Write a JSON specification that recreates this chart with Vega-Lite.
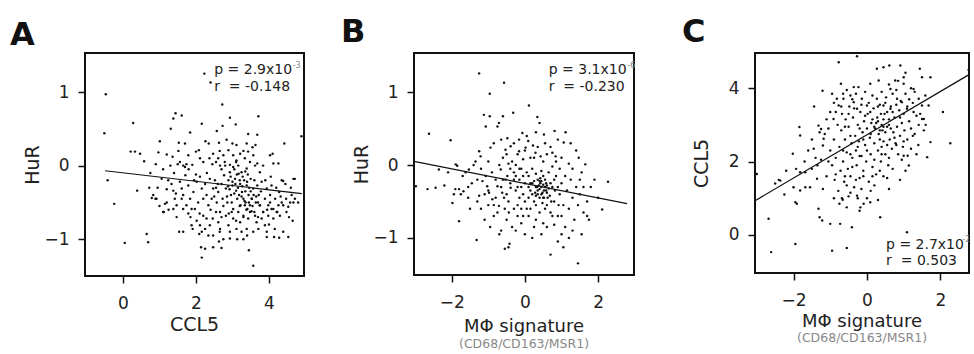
{
"$schema": "https://vega.github.io/schema/vega-lite/v6.json",
"padding": {"left": 10, "top": 16, "right": 0, "bottom": 0},
"config": {
  "font": "DejaVu Sans",
  "view": {"stroke": "#111", "strokeWidth": 2},
  "axis": {"grid": false, "domain": false, "ticks": true, "tickColor": "#111", "tickSize": 7, "tickWidth": 1.5, "labelFontSize": 17, "labelColor": "#222", "titleFontSize": 19, "titleFontWeight": "normal", "titleColor": "#222"},
  "axisX": {"labelPadding": 12},
  "axisY": {"labelPadding": 9},
  "title": {"fontWeight": "normal", "color": "#222"}
},
"datasets": {
"a": [
{"x":2.23,"y":1.25},{"x":2.40,"y":1.13},{"x":-0.47,"y":0.97},{"x":2.72,"y":0.83},{"x":-0.51,"y":0.44},{"x":0.28,"y":0.58},{"x":1.44,"y":0.71},{"x":1.61,"y":0.68},{"x":1.38,"y":0.64},{"x":2.16,"y":0.57},{"x":2.93,"y":0.65},{"x":3.09,"y":0.56},{"x":3.71,"y":0.67},{"x":2.73,"y":0.54},{"x":4.89,"y":0.40},{"x":1.84,"y":0.45},{"x":3.43,"y":0.43},{"x":3.68,"y":0.42},{"x":1.31,"y":0.50},{"x":1.01,"y":0.33},{"x":1.53,"y":0.31},{"x":2.26,"y":0.33},{"x":2.57,"y":0.47},{"x":2.63,"y":0.31},{"x":2.84,"y":0.35},{"x":3.11,"y":0.28},{"x":3.39,"y":0.30},{"x":3.63,"y":0.28},{"x":4.42,"y":0.30},{"x":0.21,"y":0.19},{"x":0.33,"y":0.19},{"x":0.47,"y":0.16},{"x":0.58,"y":0.06},{"x":0.97,"y":0.18},{"x":1.36,"y":0.12},{"x":1.52,"y":0.20},{"x":1.56,"y":0.05},{"x":1.65,"y":0.00},{"x":1.74,"y":0.02},{"x":1.79,"y":0.14},{"x":2.00,"y":0.19},{"x":2.08,"y":0.21},{"x":2.11,"y":0.10},{"x":2.20,"y":0.05},{"x":2.37,"y":0.10},{"x":2.47,"y":0.16},{"x":2.55,"y":0.05},{"x":2.61,"y":0.10},{"x":2.66,"y":0.00},{"x":2.75,"y":0.14},{"x":2.79,"y":0.05},{"x":2.89,"y":0.21},{"x":2.93,"y":0.01},{"x":3.02,"y":0.14},{"x":3.02,"y":-0.02},{"x":3.11,"y":0.07},{"x":3.16,"y":0.00},{"x":3.21,"y":0.16},{"x":3.25,"y":-0.09},{"x":3.34,"y":0.10},{"x":3.39,"y":-0.04},{"x":3.43,"y":0.19},{"x":3.48,"y":0.05},{"x":3.57,"y":0.14},{"x":3.62,"y":0.00},{"x":3.68,"y":0.03},{"x":3.75,"y":-0.09},{"x":3.84,"y":0.00},{"x":4.03,"y":0.14},{"x":4.10,"y":0.16},{"x":4.12,"y":0.03},{"x":4.26,"y":0.03},{"x":4.35,"y":-0.20},{"x":4.67,"y":-0.18},{"x":4.39,"y":-0.21},
{"x":-0.42,"y":-0.20},{"x":-0.24,"y":-0.52},{"x":0.39,"y":-0.34},{"x":0.72,"y":-0.30},{"x":0.79,"y":-0.44},{"x":0.83,"y":-0.40},{"x":0.89,"y":-0.45},{"x":1.06,"y":-0.18},{"x":1.12,"y":-0.63},{"x":1.15,"y":-0.52},{"x":1.24,"y":-0.20},{"x":1.33,"y":-0.25},{"x":1.38,"y":-0.34},{"x":1.42,"y":-0.45},{"x":1.47,"y":-0.54},{"x":1.56,"y":-0.22},{"x":1.61,"y":-0.31},{"x":1.65,"y":-0.40},{"x":1.71,"y":-0.13},{"x":1.79,"y":-0.27},{"x":1.84,"y":-0.45},{"x":1.88,"y":-0.59},{"x":1.93,"y":-0.36},{"x":2.02,"y":-0.22},{"x":2.06,"y":-0.50},{"x":2.11,"y":-0.15},{"x":2.16,"y":-0.31},{"x":2.25,"y":-0.25},{"x":2.29,"y":-0.40},{"x":2.34,"y":-0.54},{"x":2.38,"y":-0.18},{"x":2.43,"y":-0.45},{"x":2.47,"y":-0.31},{"x":2.52,"y":-0.20},{"x":2.57,"y":-0.50},{"x":2.61,"y":-0.36},{"x":2.66,"y":-0.63},{"x":2.70,"y":-0.25},{"x":2.73,"y":-0.45},{"x":2.77,"y":-0.13},{"x":2.82,"y":-0.31},{"x":2.86,"y":-0.50},{"x":2.89,"y":-0.20},{"x":2.93,"y":-0.09},{"x":2.96,"y":-0.40},{"x":3.00,"y":-0.27},{"x":3.02,"y":-0.59},{"x":3.07,"y":-0.18},{"x":3.10,"y":-0.34},{"x":3.13,"y":-0.45},{"x":3.17,"y":-0.11},{"x":3.21,"y":-0.25},{"x":3.22,"y":-0.54},{"x":3.26,"y":-0.36},{"x":3.30,"y":-0.45},{"x":3.32,"y":-0.20},{"x":3.36,"y":-0.50},{"x":3.39,"y":-0.27},{"x":3.41,"y":-0.59},{"x":3.44,"y":-0.40},{"x":3.48,"y":-0.54},{"x":3.50,"y":-0.18},{"x":3.53,"y":-0.45},{"x":3.57,"y":-0.31},{"x":3.60,"y":-0.63},{"x":3.64,"y":-0.50},{"x":3.68,"y":-0.27},{"x":3.72,"y":-0.40},{"x":3.75,"y":-0.54},{"x":3.80,"y":-0.22},{"x":3.84,"y":-0.63},{"x":3.89,"y":-0.45},{"x":3.94,"y":-0.31},{"x":3.98,"y":-0.54},{"x":4.03,"y":-0.40},{"x":4.07,"y":-0.27},{"x":4.12,"y":-0.59},{"x":4.17,"y":-0.45},{"x":4.23,"y":-0.63},{"x":4.28,"y":-0.36},{"x":4.35,"y":-0.50},{"x":4.39,"y":-0.54},{"x":4.47,"y":-0.45},{"x":4.53,"y":-0.56},{"x":4.62,"y":-0.40},{"x":4.67,"y":-0.50},{"x":4.71,"y":-0.18},{"x":4.80,"y":-0.50},
{"x":0.65,"y":-0.93},{"x":0.69,"y":-1.04},{"x":0.92,"y":-0.45},{"x":1.10,"y":-0.63},{"x":1.20,"y":-0.50},{"x":1.38,"y":-0.59},{"x":1.47,"y":-0.70},{"x":1.61,"y":-0.45},{"x":1.65,"y":-0.59},{"x":1.74,"y":-0.54},{"x":1.79,"y":-0.65},{"x":1.88,"y":-0.81},{"x":1.91,"y":-0.86},{"x":1.97,"y":-0.59},{"x":2.02,"y":-0.75},{"x":2.11,"y":-0.81},{"x":2.16,"y":-0.90},{"x":2.20,"y":-0.68},{"x":2.25,"y":-0.86},{"x":2.29,"y":-0.72},{"x":2.34,"y":-0.95},{"x":2.38,"y":-0.81},{"x":2.46,"y":-0.72},{"x":2.47,"y":-0.95},{"x":2.55,"y":-0.63},{"x":2.61,"y":-0.77},{"x":2.66,"y":-0.86},{"x":2.70,"y":-0.70},{"x":2.75,"y":-1.00},{"x":2.82,"y":-0.68},{"x":2.89,"y":-0.81},{"x":2.93,"y":-0.90},{"x":2.98,"y":-0.63},{"x":3.02,"y":-0.72},{"x":3.11,"y":-0.86},{"x":3.16,"y":-0.63},{"x":3.21,"y":-0.77},{"x":3.25,"y":-0.90},{"x":3.30,"y":-0.68},{"x":3.34,"y":-0.54},{"x":3.39,"y":-0.86},{"x":3.43,"y":-0.72},{"x":3.48,"y":-0.63},{"x":3.53,"y":-0.45},{"x":3.57,"y":-0.90},{"x":3.62,"y":-0.68},{"x":3.66,"y":-0.77},{"x":3.71,"y":-0.86},{"x":3.75,"y":-0.54},{"x":3.80,"y":-0.72},{"x":3.84,"y":-0.63},{"x":3.89,"y":-0.81},{"x":3.94,"y":-0.90},{"x":3.98,"y":-0.68},{"x":4.03,"y":-0.50},{"x":4.07,"y":-0.59},{"x":4.12,"y":-0.72},{"x":4.16,"y":-0.86},{"x":4.21,"y":-0.63},{"x":4.26,"y":-0.54},{"x":4.30,"y":-0.68},{"x":4.39,"y":-0.90},{"x":4.48,"y":-0.63},{"x":4.58,"y":-0.50},{"x":4.65,"y":-0.75},{"x":4.71,"y":-0.45},
{"x":0.05,"y":-1.05},{"x":1.54,"y":-0.90},{"x":1.65,"y":-0.90},{"x":2.09,"y":-0.93},{"x":2.14,"y":-1.11},{"x":2.16,"y":-1.25},{"x":2.25,"y":-1.13},{"x":2.47,"y":-1.11},{"x":2.63,"y":-1.03},{"x":2.70,"y":-1.12},{"x":2.93,"y":-0.99},{"x":3.13,"y":-1.00},{"x":3.30,"y":-1.00},{"x":3.45,"y":-1.15},{"x":3.57,"y":-1.36},{"x":3.94,"y":-0.97},{"x":4.14,"y":-0.97},{"x":4.28,"y":-0.98},{"x":4.53,"y":-0.97},
{"x":3.05,"y":-0.05},{"x":3.12,"y":-0.12},{"x":3.2,"y":-0.2},{"x":3.28,"y":-0.15},{"x":3.35,"y":-0.08},{"x":3.4,"y":-0.22},{"x":2.95,"y":-0.15},{"x":2.88,"y":-0.28},{"x":3.15,"y":-0.3},{"x":3.25,"y":-0.42},{"x":3.45,"y":-0.5},{"x":3.5,"y":-0.35},{"x":3.55,"y":-0.55},{"x":3.38,"y":-0.6},{"x":3.3,"y":-0.7},{"x":3.2,"y":-0.55},{"x":3.05,"y":-0.38},{"x":2.98,"y":-0.5},{"x":3.6,"y":-0.2},{"x":3.65,"y":-0.42},{"x":2.7,"y":-0.05},{"x":2.8,"y":0.0},{"x":2.6,"y":-0.25},{"x":2.5,"y":-0.42},{"x":2.45,"y":0.02},{"x":2.3,"y":-0.1},{"x":3.1,"y":0.05},{"x":3.0,"y":-0.22},{"x":3.35,"y":-0.35},{"x":3.42,"y":-0.12},
{"x":1.1,"y":-0.05},{"x":1.2,"y":-0.32},{"x":1.3,"y":0.0},{"x":1.4,"y":-0.1},{"x":1.5,"y":0.02},{"x":1.45,"y":-0.38},{"x":1.7,"y":-0.02},{"x":1.8,"y":-0.05},{"x":1.9,"y":0.01},{"x":2.0,"y":-0.12},{"x":1.25,"y":-0.6},{"x":1.0,"y":-0.55},{"x":0.95,"y":-0.3},{"x":0.9,"y":0.02},
{"x":2.85,"y":-0.42},{"x":2.92,"y":-0.32},{"x":3.08,"y":-0.25},{"x":3.18,"y":-0.4},{"x":3.27,"y":-0.28},{"x":3.33,"y":-0.48},{"x":3.46,"y":-0.3},{"x":3.52,"y":-0.62},{"x":3.58,"y":-0.4},{"x":3.7,"y":-0.5},{"x":3.78,"y":-0.35},{"x":3.9,"y":-0.2},{"x":3.95,"y":-0.6},{"x":4.05,"y":-0.15},{"x":4.2,"y":-0.3},{"x":4.32,"y":-0.42},{"x":4.45,"y":-0.25},{"x":4.55,"y":-0.7},{"x":4.6,"y":-0.3},{"x":2.4,"y":-0.6},{"x":2.2,"y":-0.45},{"x":2.1,"y":-0.65},{"x":1.95,"y":-0.2},{"x":1.85,"y":-0.7},{"x":2.65,"y":-0.9},{"x":2.9,"y":-0.65},{"x":3.1,"y":-0.75},{"x":3.4,"y":-0.95},{"x":3.7,"y":-0.7},{"x":4.0,"y":-0.8},{"x":2.55,"y":-0.3},{"x":2.75,"y":-0.55},{"x":3.0,"y":0.3},{"x":3.3,"y":0.2},{"x":3.55,"y":0.25},{"x":2.65,"y":0.2},{"x":2.35,"y":0.3},{"x":1.7,"y":0.3},{"x":1.2,"y":0.15},{"x":0.75,"y":-0.1}
],
"b": [
{"x":-1.25,"y":1.26},{"x":-0.57,"y":1.13},{"x":-0.96,"y":0.98},{"x":0.11,"y":0.82},{"x":-1.12,"y":0.69},{"x":-0.96,"y":0.67},{"x":-0.6,"y":0.67},{"x":0.34,"y":0.66},{"x":-0.32,"y":0.72},{"x":0.4,"y":0.58},{"x":-0.71,"y":0.58},{"x":-0.75,"y":0.53},{"x":-1.07,"y":0.53},{"x":-2.62,"y":0.43},{"x":-2.03,"y":0.34},{"x":-0.07,"y":0.44},{"x":0.81,"y":0.47},{"x":1.11,"y":0.45},{"x":0.52,"y":0.42},{"x":-0.65,"y":0.35},{"x":-0.48,"y":0.37},{"x":-0.16,"y":0.35},{"x":0.09,"y":0.33},{"x":0.22,"y":0.27},{"x":1.06,"y":0.31},{"x":-1.25,"y":0.19},{"x":-1.21,"y":0.12},{"x":-0.94,"y":0.24},{"x":-0.53,"y":0.21},{"x":-0.39,"y":0.26},{"x":-0.16,"y":0.19},{"x":0.02,"y":0.24},{"x":0.29,"y":0.17},{"x":0.43,"y":0.12},{"x":0.75,"y":0.17},{"x":0.84,"y":0.12},{"x":1.65,"y":0.01},{"x":1.47,"y":0.1},{"x":2.27,"y":-0.23},{"x":2.11,"y":-0.61},
{"x":-2.98,"y":-0.29},{"x":-2.66,"y":-0.33},{"x":-2.44,"y":-0.31},{"x":-2.35,"y":-0.06},{"x":-1.98,"y":-0.52},{"x":-1.94,"y":-0.4},{"x":-1.9,"y":-0.33},{"x":-1.8,"y":-0.33},{"x":-1.75,"y":-0.4},{"x":-1.68,"y":-0.36},{"x":-1.8,"y":-0.77},{"x":-1.89,"y":0.01},{"x":-1.85,"y":-0.01},{"x":-1.62,"y":-0.1},{"x":-1.53,"y":-0.06},{"x":-1.4,"y":0.0},{"x":-1.35,"y":0.05},{"x":-1.32,"y":-1.03},{"x":-1.25,"y":-0.42},{"x":-1.16,"y":-0.22},{"x":-1.07,"y":-0.15},{"x":-1.03,"y":-0.29},{"x":-0.98,"y":-0.38},{"x":-0.89,"y":-0.47},{"x":-0.8,"y":-0.2},{"x":-0.75,"y":-0.29},{"x":-0.71,"y":-0.56},{"x":-0.66,"y":-0.06},{"x":-0.62,"y":-0.38},{"x":-0.57,"y":-0.45},{"x":-0.53,"y":-0.2},{"x":-0.48,"y":-0.15},{"x":-0.44,"y":-0.65},{"x":-0.39,"y":-0.31},{"x":-1.5,"y":-0.6},{"x":-1.45,"y":-0.25},{"x":-1.3,"y":-0.5},{"x":-1.2,"y":-0.6},{"x":-1.1,"y":-0.75},{"x":-1.0,"y":-0.55},{"x":-0.95,"y":-0.85},{"x":-0.85,"y":-0.7},{"x":-0.7,"y":-0.95},{"x":-0.65,"y":-0.9},{"x":-0.55,"y":-1.15},{"x":-0.45,"y":-1.13},{"x":-0.42,"y":-1.08},{"x":-1.55,"y":-0.45},{"x":-1.7,"y":-0.15},{"x":-2.1,"y":-0.1},{"x":-2.2,"y":-0.28},
{"x":-0.3,"y":-0.1},{"x":-0.25,"y":-0.35},{"x":-0.2,"y":-0.55},{"x":-0.15,"y":-0.2},{"x":-0.1,"y":-0.05},{"x":-0.05,"y":-0.4},{"x":0.0,"y":-0.25},{"x":0.05,"y":-0.6},{"x":0.1,"y":-0.15},{"x":0.15,"y":-0.35},{"x":0.2,"y":-0.05},{"x":0.25,"y":-0.5},{"x":0.3,"y":-0.3},{"x":0.35,"y":-0.2},{"x":0.38,"y":-0.28},{"x":0.4,"y":-0.33},{"x":0.42,"y":-0.25},{"x":0.45,"y":-0.3},{"x":0.48,"y":-0.38},{"x":0.5,"y":-0.27},{"x":0.52,"y":-0.45},{"x":0.55,"y":-0.2},{"x":0.58,"y":-0.35},{"x":0.6,"y":-0.55},{"x":0.65,"y":-0.1},{"x":0.68,"y":-0.42},{"x":0.7,"y":-0.65},{"x":0.75,"y":-0.3},{"x":0.8,"y":-0.5},{"x":0.85,"y":-0.15},{"x":0.9,"y":-0.7},{"x":0.95,"y":-0.4},{"x":1.0,"y":-0.25},{"x":1.05,"y":-0.55},{"x":1.1,"y":-0.85},{"x":1.15,"y":-0.35},{"x":1.2,"y":-0.6},{"x":1.25,"y":-0.2},{"x":1.3,"y":-0.45},{"x":1.35,"y":-0.75},{"x":1.4,"y":-0.3},{"x":1.45,"y":-0.55},{"x":1.5,"y":-0.4},{"x":1.55,"y":-0.95},{"x":1.6,"y":-0.65},{"x":1.45,"y":-1.35},{"x":1.7,"y":-0.5},{"x":1.75,"y":-0.75},{"x":1.8,"y":-0.3},{"x":2.0,"y":-0.45},{"x":0.7,"y":-1.23},{"x":1.05,"y":-1.13},{"x":0.9,"y":-1.05},{"x":0.45,"y":-0.95},{"x":0.2,"y":-1.0},{"x":0.6,"y":-0.85},{"x":0.3,"y":-0.75},{"x":-0.1,"y":-0.8},{"x":0.0,"y":-0.95},{"x":0.1,"y":-0.7},{"x":-0.2,"y":-0.7},{"x":-0.3,"y":-0.6},{"x":-0.35,"y":-0.85},{"x":0.25,"y":0.1},{"x":0.5,"y":0.05},{"x":0.6,"y":0.15},{"x":0.35,"y":0.25},{"x":0.15,"y":0.1},{"x":-0.05,"y":0.08},{"x":-0.2,"y":0.15},{"x":-0.35,"y":0.05},{"x":-0.45,"y":0.02},{"x":-0.6,"y":0.1},{"x":0.85,"y":0.05},{"x":1.0,"y":0.1},{"x":1.2,"y":0.02},{"x":0.95,"y":-0.05},{"x":0.75,"y":-0.02},{"x":0.45,"y":-0.08},{"x":0.3,"y":-0.12},{"x":0.1,"y":-0.45},{"x":0.2,"y":-0.25},{"x":0.5,"y":-0.15},{"x":0.65,"y":-0.32},{"x":0.4,"y":-0.45},{"x":0.55,"y":-0.6},{"x":0.35,"y":-0.4},{"x":0.25,"y":-0.22},{"x":0.45,"y":-0.22},{"x":0.6,"y":-0.28},{"x":0.3,"y":-0.55},{"x":0.15,"y":-0.6},{"x":-0.05,"y":-0.15},{"x":-0.15,"y":-0.45},{"x":-0.25,"y":0.0},{"x":-0.4,"y":-0.25},{"x":-0.5,"y":-0.4},{"x":-0.6,"y":-0.2},{"x":-0.8,"y":-0.45},{"x":-0.9,"y":-0.1},{"x":-1.0,"y":0.05},{"x":-0.7,"y":0.0},{"x":-0.55,"y":-0.6},{"x":-0.45,"y":-0.5},{"x":-0.3,"y":-0.2},{"x":-0.15,"y":-0.05},{"x":0.0,"y":0.2},{"x":0.05,"y":-0.1},{"x":0.7,"y":0.25},{"x":0.9,"y":-0.3},{"x":1.1,"y":-0.15},{"x":1.3,"y":-0.05},{"x":1.55,"y":-0.1},{"x":1.4,"y":0.2},{"x":1.6,"y":-0.3},{"x":1.9,"y":-0.2},{"x":0.8,"y":-0.82},{"x":1.0,"y":-0.7},{"x":1.2,"y":-1.0},{"x":0.4,"y":-0.65},{"x":0.0,"y":-0.5},{"x":-0.2,"y":-0.3},{"x":-0.1,"y":-0.6},{"x":0.1,"y":-0.3},{"x":0.28,"y":-0.38},{"x":0.42,"y":-0.18},{"x":0.52,"y":-0.35},{"x":0.62,"y":-0.45},{"x":0.72,"y":-0.5},{"x":0.82,"y":-0.35},{"x":0.92,"y":-0.55},{"x":0.48,"y":-0.52},{"x":0.33,"y":-0.3},{"x":0.58,"y":-0.25},
{"x":0.35,"y":-0.35},{"x":0.45,"y":-0.4},{"x":0.55,"y":-0.3},{"x":0.5,"y":-0.45},{"x":0.4,"y":-0.22},{"x":0.3,"y":-0.42},{"x":0.2,"y":-0.4},{"x":0.6,"y":-0.38},{"x":0.7,"y":-0.25},{"x":0.8,"y":-0.2},{"x":0.15,"y":-0.25},{"x":-0.1,"y":-0.3},{"x":-0.25,"y":-0.15},{"x":-0.4,"y":-0.05},{"x":-0.65,"y":-0.3},{"x":-0.85,"y":-0.55},{"x":-1.1,"y":-0.4},{"x":-1.3,"y":-0.2},{"x":-0.5,"y":0.15},{"x":-0.3,"y":0.3},{"x":0.05,"y":0.4},{"x":0.3,"y":0.45},{"x":0.55,"y":0.3},{"x":0.9,"y":0.35},{"x":1.25,"y":0.3},{"x":1.5,"y":-0.2},{"x":1.7,"y":-0.7},{"x":1.3,"y":-0.9},{"x":1.0,"y":-0.95},{"x":0.75,"y":-0.7},{"x":0.5,"y":-0.8},{"x":0.25,"y":-0.85},{"x":-0.05,"y":-0.7},{"x":-0.25,"y":-0.9},{"x":-0.5,"y":-0.75},{"x":-0.75,"y":-0.65},{"x":-1.0,"y":-0.35},{"x":-1.55,"y":-0.3},{"x":-1.2,"y":-0.05},{"x":-0.85,"y":0.3}
],
"c": [
{"x":-0.77,"y":4.71},{"x":-0.27,"y":4.87},{"x":0.27,"y":4.53},{"x":0.45,"y":4.57},{"x":0.61,"y":4.62},{"x":0.91,"y":4.62},{"x":1.44,"y":4.53},{"x":1.73,"y":4.3},{"x":2.77,"y":4.5},{"x":1.5,"y":4.3},{"x":1.05,"y":4.42},{"x":-1.21,"y":3.93},{"x":-1.44,"y":3.5},{"x":-0.71,"y":4.12},{"x":-0.36,"y":4.03},{"x":-0.23,"y":4.03},{"x":0.09,"y":4.12},{"x":0.32,"y":4.21},{"x":0.77,"y":4.21},{"x":0.64,"y":3.98},{"x":1.0,"y":4.12},{"x":1.27,"y":3.98},{"x":1.41,"y":3.71},{"x":1.59,"y":3.8},{"x":1.68,"y":3.53},{"x":1.5,"y":3.53},{"x":1.5,"y":3.16},{"x":1.55,"y":2.85},{"x":2.07,"y":3.35},{"x":2.27,"y":2.5},{"x":1.64,"y":2.12},{"x":1.73,"y":2.53},{"x":1.11,"y":2.16},{"x":1.14,"y":1.89},{"x":1.0,"y":2.16},
{"x":-1.32,"y":2.98},{"x":-1.25,"y":2.89},{"x":-1.29,"y":2.8},{"x":-1.18,"y":2.62},{"x":-1.2,"y":2.44},{"x":-1.0,"y":3.35},{"x":-0.91,"y":3.16},{"x":-0.82,"y":3.71},{"x":-0.77,"y":3.53},{"x":-0.64,"y":3.71},{"x":-0.45,"y":3.8},{"x":-0.36,"y":3.62},{"x":-0.27,"y":3.44},{"x":-0.14,"y":3.71},{"x":0.0,"y":3.53},{"x":0.09,"y":3.35},{"x":0.27,"y":3.71},{"x":0.45,"y":3.53},{"x":0.64,"y":3.44},{"x":0.82,"y":3.71},{"x":0.95,"y":3.62},{"x":1.09,"y":3.44},{"x":1.27,"y":3.35},{"x":1.41,"y":3.0},{"x":1.55,"y":3.16},
{"x":-3.0,"y":1.66},{"x":-2.68,"y":0.44},{"x":-2.61,"y":-0.47},{"x":-2.36,"y":1.48},{"x":-2.02,"y":2.21},{"x":-1.84,"y":2.94},{"x":-1.82,"y":2.71},{"x":-1.93,"y":1.8},{"x":-1.82,"y":1.71},{"x":-1.68,"y":1.71},{"x":-1.95,"y":0.89},{"x":-1.91,"y":0.85},{"x":-1.82,"y":1.21},{"x":-1.68,"y":1.3},{"x":-1.36,"y":1.53},{"x":-1.32,"y":0.71},{"x":-1.29,"y":0.48},{"x":-1.22,"y":0.39},{"x":-1.95,"y":-0.25},{"x":-0.95,"y":-0.43},{"x":-0.55,"y":-0.36},{"x":-1.0,"y":0.3},{"x":-0.73,"y":0.3},{"x":-0.68,"y":1.0},{"x":-0.66,"y":0.96},{"x":-0.41,"y":0.21},{"x":-0.2,"y":0.66},{"x":-0.18,"y":0.75},{"x":-0.09,"y":0.85},{"x":0.09,"y":0.89},{"x":0.36,"y":0.48},{"x":1.09,"y":0.07},{"x":-0.45,"y":1.15},{"x":-0.27,"y":1.07},{"x":-0.55,"y":1.35},{"x":-2.5,"y":1.4},{"x":-2.2,"y":1.75},{"x":-1.5,"y":1.8},{"x":-1.4,"y":2.1},{"x":-1.6,"y":2.3},{"x":-2.4,"y":1.5},
{"x":-1.0,"y":2.3},{"x":-0.95,"y":1.9},{"x":-0.9,"y":2.6},{"x":-0.88,"y":1.5},{"x":-0.85,"y":2.1},{"x":-0.8,"y":3.0},{"x":-0.78,"y":1.2},{"x":-0.75,"y":2.4},{"x":-0.72,"y":1.75},{"x":-0.7,"y":2.85},{"x":-0.68,"y":3.3},{"x":-0.65,"y":2.0},{"x":-0.62,"y":1.45},{"x":-0.6,"y":2.6},{"x":-0.58,"y":3.15},{"x":-0.55,"y":2.25},{"x":-0.52,"y":1.8},{"x":-0.5,"y":2.95},{"x":-0.48,"y":3.5},{"x":-0.45,"y":1.6},{"x":-0.42,"y":2.5},{"x":-0.4,"y":2.1},{"x":-0.38,"y":3.2},{"x":-0.35,"y":1.3},{"x":-0.32,"y":2.7},{"x":-0.3,"y":2.3},{"x":-0.28,"y":1.9},{"x":-0.25,"y":3.0},{"x":-0.22,"y":2.55},{"x":-0.2,"y":1.55},{"x":-0.18,"y":3.35},{"x":-0.15,"y":2.15},{"x":-0.12,"y":2.8},{"x":-0.1,"y":1.75},{"x":-0.08,"y":3.1},{"x":-0.05,"y":2.45},{"x":-0.02,"y":2.0},{"x":0.0,"y":2.9},{"x":0.02,"y":3.3},{"x":0.05,"y":1.45},{"x":0.08,"y":2.65},{"x":0.1,"y":2.2},{"x":0.12,"y":3.05},{"x":0.15,"y":1.85},{"x":0.18,"y":3.45},{"x":0.2,"y":2.5},{"x":0.22,"y":2.9},{"x":0.25,"y":1.65},{"x":0.28,"y":3.2},{"x":0.3,"y":2.3},{"x":0.32,"y":2.75},{"x":0.35,"y":3.55},{"x":0.38,"y":2.0},{"x":0.4,"y":3.0},{"x":0.42,"y":2.85},{"x":0.45,"y":2.55},{"x":0.48,"y":3.3},{"x":0.5,"y":2.2},{"x":0.52,"y":3.75},{"x":0.55,"y":2.95},{"x":0.58,"y":1.9},{"x":0.6,"y":3.15},{"x":0.62,"y":2.6},{"x":0.65,"y":3.5},{"x":0.68,"y":2.35},{"x":0.7,"y":3.85},{"x":0.72,"y":2.8},{"x":0.75,"y":3.2},{"x":0.78,"y":2.5},{"x":0.8,"y":3.95},{"x":0.82,"y":2.95},{"x":0.85,"y":2.2},{"x":0.88,"y":3.4},{"x":0.9,"y":2.7},{"x":0.92,"y":3.65},{"x":0.95,"y":3.05},{"x":0.98,"y":2.4},{"x":1.0,"y":3.3},{"x":1.02,"y":2.85},{"x":1.05,"y":3.85},{"x":1.1,"y":2.6},{"x":1.15,"y":3.1},{"x":1.2,"y":2.9},{"x":1.25,"y":3.6},{"x":1.3,"y":2.75},{"x":1.35,"y":3.25},{"x":1.4,"y":2.45},{"x":1.2,"y":4.0},{"x":1.0,"y":4.3},{"x":0.85,"y":4.2},{"x":0.6,"y":4.1},{"x":0.4,"y":3.9},{"x":0.15,"y":3.8},{"x":-0.05,"y":3.9},{"x":-0.3,"y":3.85},{"x":-0.55,"y":3.95},{"x":-0.95,"y":3.85},{"x":-1.1,"y":3.15},{"x":-1.15,"y":2.75},{"x":-1.05,"y":2.0},{"x":-1.1,"y":1.6},{"x":-1.2,"y":1.25},{"x":-1.35,"y":1.9},{"x":-1.45,"y":2.35},{"x":-1.55,"y":1.3},{"x":-0.9,"y":1.0},{"x":-0.75,"y":0.85},{"x":-0.5,"y":1.05},{"x":-0.3,"y":1.5},{"x":-0.15,"y":1.25},{"x":0.2,"y":1.35},{"x":0.45,"y":1.6},{"x":0.7,"y":1.8},{"x":0.9,"y":1.5},{"x":0.6,"y":1.25},{"x":0.3,"y":0.95},{"x":0.0,"y":1.0},{"x":0.55,"y":2.45},{"x":0.35,"y":2.6},{"x":0.25,"y":3.05},{"x":0.1,"y":2.75},{"x":-0.1,"y":2.6},{"x":-0.25,"y":2.4},{"x":-0.45,"y":2.7},{"x":-0.6,"y":2.95},{"x":0.4,"y":2.4},{"x":0.5,"y":2.8},{"x":0.45,"y":2.95},{"x":0.38,"y":3.3},{"x":0.65,"y":2.9},{"x":0.75,"y":2.65},{"x":0.15,"y":3.15},{"x":-0.05,"y":3.25},{"x":-0.2,"y":2.9},{"x":-0.35,"y":3.45},{"x":-0.5,"y":3.3},{"x":-0.7,"y":3.5},{"x":-0.85,"y":3.35},{"x":0.3,"y":3.5},{"x":0.55,"y":3.35},{"x":0.8,"y":3.55},{"x":1.1,"y":3.5},{"x":1.3,"y":3.9},{"x":1.45,"y":3.3},{"x":1.6,"y":3.0},{"x":1.35,"y":2.2},{"x":1.2,"y":2.35},{"x":1.05,"y":1.75},{"x":0.95,"y":2.05},
{"x":0.2,"y":2.95},{"x":0.3,"y":3.1},{"x":0.45,"y":3.15},{"x":0.6,"y":3.0},{"x":0.35,"y":2.85},{"x":0.5,"y":3.6},{"x":0.7,"y":3.35},{"x":0.9,"y":3.2},{"x":1.15,"y":3.7},{"x":0.05,"y":3.6},{"x":-0.15,"y":3.55},{"x":-0.4,"y":3.7},{"x":-0.65,"y":3.85},{"x":-0.9,"y":3.6},{"x":-1.05,"y":2.9},{"x":-0.65,"y":2.3},{"x":-0.45,"y":2.2},{"x":-0.2,"y":2.15},{"x":0.0,"y":2.3},{"x":0.2,"y":2.05},{"x":0.4,"y":2.2},{"x":0.6,"y":2.1},{"x":0.8,"y":2.45},{"x":1.0,"y":2.55},{"x":1.25,"y":2.7},{"x":-0.85,"y":1.65},{"x":-0.6,"y":1.6},{"x":-0.4,"y":1.85},{"x":-0.1,"y":1.6},{"x":0.15,"y":1.6},{"x":0.35,"y":1.75},{"x":0.55,"y":1.55},{"x":-0.25,"y":1.0},{"x":-0.55,"y":0.75},{"x":0.1,"y":1.2},{"x":-1.25,"y":2.05},{"x":-1.5,"y":2.6},{"x":-1.7,"y":2.0},{"x":-2.0,"y":1.3},{"x":-2.25,"y":1.1}
]
},
"spacing": 45,
"hconcat": [
{
 "spacing": 35,
 "hconcat": [
  {
   "title": {"text": "A", "anchor": "start", "frame": "group", "fontSize": 32, "fontWeight": "bold", "color": "#111", "dx": -75, "offset": 0},
   "vconcat": [{
    "width": 219, "height": 223,
    "title": {"text": "CCL5", "orient": "bottom", "anchor": "middle", "frame": "group", "fontSize": 19, "offset": 5},
    "layer": [
     {"data": {"name": "a"}, "mark": {"type": "circle", "size": 6, "color": "#111", "opacity": 1},
      "encoding": {"x": {"field": "x", "type": "quantitative", "scale": {"domain": [-1.04, 4.96], "nice": false, "zero": false}, "axis": {"values": [0, 2, 4], "title": null}},
                   "y": {"field": "y", "type": "quantitative", "scale": {"domain": [-1.5, 1.53], "nice": false, "zero": false}, "axis": {"values": [-1, 0, 1], "title": "HuR", "titlePadding": 1}}}},
     {"data": {"values": [{"x": -0.49, "y": -0.07}, {"x": 4.9, "y": -0.38}]}, "mark": {"type": "line", "color": "#111", "strokeWidth": 1.2},
      "encoding": {"x": {"field": "x", "type": "quantitative", "scale": {"domain": [-1.04, 4.96], "nice": false, "zero": false}, "axis": {"values": [0, 2, 4], "title": null}},
                   "y": {"field": "y", "type": "quantitative", "scale": {"domain": [-1.5, 1.53], "nice": false, "zero": false}, "axis": {"values": [-1, 0, 1], "title": "HuR", "titlePadding": 1}}}},
     {"data": {"values": [{"t": "p = 2.9x10"}]}, "mark": {"type": "text", "align": "left", "baseline": "alphabetic", "fontSize": 14, "color": "#222"},
      "encoding": {"x": {"datum": 2.5, "type": "quantitative", "scale": {"domain": [-1.04, 4.96], "nice": false, "zero": false}, "axis": {"values": [0, 2, 4], "title": null}},
                   "y": {"datum": 1.24, "type": "quantitative", "scale": {"domain": [-1.5, 1.53], "nice": false, "zero": false}, "axis": {"values": [-1, 0, 1], "title": "HuR", "titlePadding": 1}}, "text": {"field": "t"}}},
     {"data": {"values": [{"t": "r\u00a0 = -0.148"}]}, "mark": {"type": "text", "align": "left", "baseline": "alphabetic", "fontSize": 14, "color": "#222"},
      "encoding": {"x": {"datum": 2.5, "type": "quantitative", "scale": {"domain": [-1.04, 4.96], "nice": false, "zero": false}, "axis": {"values": [0, 2, 4], "title": null}},
                   "y": {"datum": 1.01, "type": "quantitative", "scale": {"domain": [-1.5, 1.53], "nice": false, "zero": false}, "axis": {"values": [-1, 0, 1], "title": "HuR", "titlePadding": 1}}, "text": {"field": "t"}}},
     {"data": {"values": [{"t": "-3"}]}, "mark": {"type": "text", "align": "left", "baseline": "alphabetic", "fontSize": 8, "color": "#888"},
      "encoding": {"x": {"datum": 4.65, "type": "quantitative", "scale": {"domain": [-1.04, 4.96], "nice": false, "zero": false}, "axis": {"values": [0, 2, 4], "title": null}},
                   "y": {"datum": 1.33, "type": "quantitative", "scale": {"domain": [-1.5, 1.53], "nice": false, "zero": false}, "axis": {"values": [-1, 0, 1], "title": "HuR", "titlePadding": 1}}, "text": {"field": "t"}}}
    ]
   }]
  },
  {
   "title": {"text": "B", "anchor": "start", "frame": "group", "fontSize": 32, "fontWeight": "bold", "color": "#111", "dx": -73, "offset": 3},
   "vconcat": [{
    "width": 220, "height": 222,
    "title": {"text": "MΦ signature", "subtitle": "(CD68/CD163/MSR1)", "orient": "bottom", "anchor": "middle", "frame": "group", "fontSize": 18, "offset": 8, "subtitleFontSize": 12.5, "subtitleColor": "#888", "subtitlePadding": 2},
    "layer": [
     {"data": {"name": "b"}, "mark": {"type": "circle", "size": 6, "color": "#111", "opacity": 1},
      "encoding": {"x": {"field": "x", "type": "quantitative", "scale": {"domain": [-3.03, 2.98], "nice": false, "zero": false}, "axis": {"values": [-2, 0, 2], "title": null}},
                   "y": {"field": "y", "type": "quantitative", "scale": {"domain": [-1.51, 1.54], "nice": false, "zero": false}, "axis": {"values": [-1, 0, 1], "title": "HuR", "titlePadding": 1}}}},
     {"data": {"values": [{"x": -3.03, "y": 0.05}, {"x": 2.79, "y": -0.53}]}, "mark": {"type": "line", "color": "#111", "strokeWidth": 1.2},
      "encoding": {"x": {"field": "x", "type": "quantitative", "scale": {"domain": [-3.03, 2.98], "nice": false, "zero": false}, "axis": {"values": [-2, 0, 2], "title": null}},
                   "y": {"field": "y", "type": "quantitative", "scale": {"domain": [-1.51, 1.54], "nice": false, "zero": false}, "axis": {"values": [-1, 0, 1], "title": "HuR", "titlePadding": 1}}}},
     {"data": {"values": [{"t": "p = 3.1x10"}]}, "mark": {"type": "text", "align": "left", "baseline": "alphabetic", "fontSize": 14, "color": "#222"},
      "encoding": {"x": {"datum": 0.65, "type": "quantitative", "scale": {"domain": [-3.03, 2.98], "nice": false, "zero": false}, "axis": {"values": [-2, 0, 2], "title": null}},
                   "y": {"datum": 1.25, "type": "quantitative", "scale": {"domain": [-1.51, 1.54], "nice": false, "zero": false}, "axis": {"values": [-1, 0, 1], "title": "HuR", "titlePadding": 1}}, "text": {"field": "t"}}},
     {"data": {"values": [{"t": "r\u00a0 = -0.230"}]}, "mark": {"type": "text", "align": "left", "baseline": "alphabetic", "fontSize": 14, "color": "#222"},
      "encoding": {"x": {"datum": 0.65, "type": "quantitative", "scale": {"domain": [-3.03, 2.98], "nice": false, "zero": false}, "axis": {"values": [-2, 0, 2], "title": null}},
                   "y": {"datum": 1.02, "type": "quantitative", "scale": {"domain": [-1.51, 1.54], "nice": false, "zero": false}, "axis": {"values": [-1, 0, 1], "title": "HuR", "titlePadding": 1}}, "text": {"field": "t"}}},
     {"data": {"values": [{"t": "-6"}]}, "mark": {"type": "text", "align": "left", "baseline": "alphabetic", "fontSize": 8, "color": "#888"},
      "encoding": {"x": {"datum": 2.8, "type": "quantitative", "scale": {"domain": [-3.03, 2.98], "nice": false, "zero": false}, "axis": {"values": [-2, 0, 2], "title": null}},
                   "y": {"datum": 1.33, "type": "quantitative", "scale": {"domain": [-1.51, 1.54], "nice": false, "zero": false}, "axis": {"values": [-1, 0, 1], "title": "HuR", "titlePadding": 1}}, "text": {"field": "t"}}}
    ]
   }]
  }
 ]
},
{
 "title": {"text": "C", "anchor": "start", "frame": "group", "fontSize": 32, "fontWeight": "bold", "color": "#111", "dx": -73, "offset": 3},
 "vconcat": [{
  "width": 214, "height": 220,
  "title": {"text": "MΦ signature", "subtitle": "(CD68/CD163/MSR1)", "orient": "bottom", "anchor": "middle", "frame": "group", "fontSize": 18, "offset": 5, "subtitleFontSize": 12.5, "subtitleColor": "#888", "subtitlePadding": 1},
  "layer": [
   {"data": {"name": "c"}, "mark": {"type": "circle", "size": 6, "color": "#111", "opacity": 1},
    "encoding": {"x": {"field": "x", "type": "quantitative", "scale": {"domain": [-3.05, 2.78], "nice": false, "zero": false}, "axis": {"values": [-2, 0, 2], "title": null}},
                 "y": {"field": "y", "type": "quantitative", "scale": {"domain": [-1.04, 4.96], "nice": false, "zero": false}, "axis": {"values": [0, 2, 4], "title": "CCL5", "titlePadding": 17}}}},
   {"data": {"values": [{"x": -3.05, "y": 0.93}, {"x": 2.78, "y": 4.37}]}, "mark": {"type": "line", "color": "#111", "strokeWidth": 1.2},
    "encoding": {"x": {"field": "x", "type": "quantitative", "scale": {"domain": [-3.05, 2.78], "nice": false, "zero": false}, "axis": {"values": [-2, 0, 2], "title": null}},
                 "y": {"field": "y", "type": "quantitative", "scale": {"domain": [-1.04, 4.96], "nice": false, "zero": false}, "axis": {"values": [0, 2, 4], "title": "CCL5", "titlePadding": 17}}}},
   {"data": {"values": [{"t": "p = 2.7x10"}]}, "mark": {"type": "text", "align": "left", "baseline": "alphabetic", "fontSize": 14, "color": "#222"},
    "encoding": {"x": {"datum": 0.52, "type": "quantitative", "scale": {"domain": [-3.05, 2.78], "nice": false, "zero": false}, "axis": {"values": [-2, 0, 2], "title": null}},
                 "y": {"datum": -0.38, "type": "quantitative", "scale": {"domain": [-1.04, 4.96], "nice": false, "zero": false}, "axis": {"values": [0, 2, 4], "title": "CCL5", "titlePadding": 17}}, "text": {"field": "t"}}},
   {"data": {"values": [{"t": "r\u00a0 = 0.503"}]}, "mark": {"type": "text", "align": "left", "baseline": "alphabetic", "fontSize": 14, "color": "#222"},
    "encoding": {"x": {"datum": 0.52, "type": "quantitative", "scale": {"domain": [-3.05, 2.78], "nice": false, "zero": false}, "axis": {"values": [-2, 0, 2], "title": null}},
                 "y": {"datum": -0.82, "type": "quantitative", "scale": {"domain": [-1.04, 4.96], "nice": false, "zero": false}, "axis": {"values": [0, 2, 4], "title": "CCL5", "titlePadding": 17}}, "text": {"field": "t"}}},
   {"data": {"values": [{"t": "-27"}]}, "mark": {"type": "text", "align": "left", "baseline": "alphabetic", "fontSize": 8, "color": "#888", "clip": true},
    "encoding": {"x": {"datum": 2.6, "type": "quantitative", "scale": {"domain": [-3.05, 2.78], "nice": false, "zero": false}, "axis": {"values": [-2, 0, 2], "title": null}},
                 "y": {"datum": -0.2, "type": "quantitative", "scale": {"domain": [-1.04, 4.96], "nice": false, "zero": false}, "axis": {"values": [0, 2, 4], "title": "CCL5", "titlePadding": 17}}, "text": {"field": "t"}}}
  ]
 }]
}
]
}
